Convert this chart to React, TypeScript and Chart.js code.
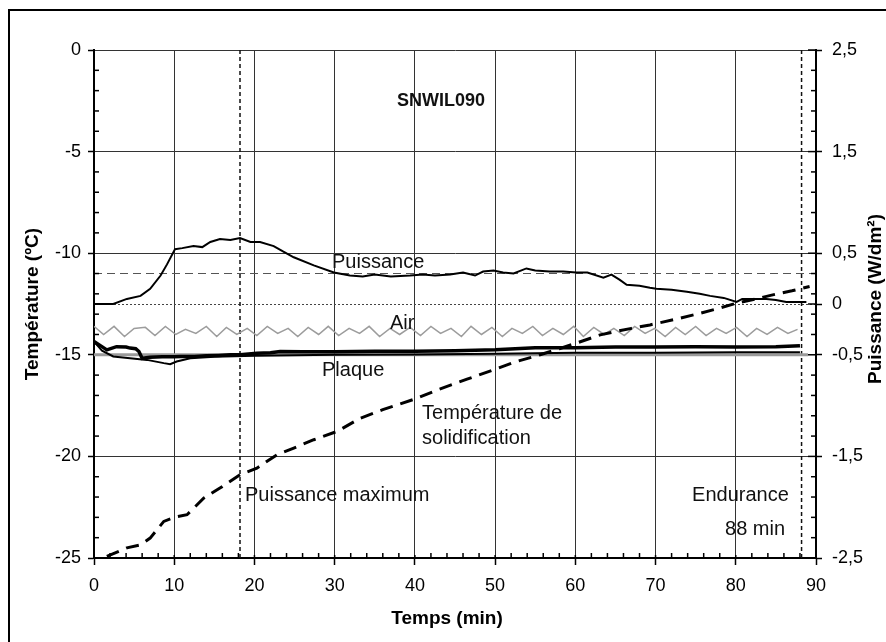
import React, { useEffect, useRef } from 'react';
import { Chart, registerables } from 'chart.js';

Chart.register(...registerables);

const FONT = "'Liberation Sans', Arial, Helvetica, sans-serif";

// ---- axes ----
const timeRange = [0, 90];
const tempRange = [-25, 0];
const powerRange = [-2.5, 2.5];
const powerTicks = [-2.5, -1.5, -0.5, 0, 0.5, 1.5, 2.5];

// ---- Puissance (W/dm²), right axis ----
const puisTime = [0, 2.4, 4.1, 5.8, 7.0, 8.3, 9.1, 10.1, 11.0, 12.4, 13.5, 14.5, 15.7, 17.0, 18.2, 19.5, 20.7, 22.4, 23.5, 24.9, 27.4, 29.9, 31.9, 33.5, 35.0, 37.0, 39.4, 41.0, 42.5, 44.4, 46.0, 47.5, 48.5, 49.8, 51.0, 52.3, 53.9, 55.0, 56.8, 58.5, 60.1, 61.5, 63.5, 64.5, 65.5, 66.4, 68.0, 69.3, 70.1, 72.0, 73.9, 75.5, 76.8, 78.5, 80.1, 80.8, 81.3, 82.5, 83.8, 85.0, 86.3, 87.5, 88.8];
const puisValue = [0, 0, 0.05, 0.08, 0.15, 0.28, 0.39, 0.54, 0.55, 0.57, 0.56, 0.61, 0.64, 0.63, 0.65, 0.61, 0.61, 0.57, 0.52, 0.46, 0.38, 0.31, 0.28, 0.27, 0.29, 0.27, 0.28, 0.29, 0.28, 0.29, 0.31, 0.28, 0.32, 0.33, 0.31, 0.30, 0.35, 0.33, 0.32, 0.32, 0.31, 0.31, 0.26, 0.29, 0.24, 0.19, 0.18, 0.16, 0.15, 0.14, 0.12, 0.10, 0.08, 0.06, 0.02, 0.05, 0.05, 0.05, 0.05, 0.04, 0.02, 0.02, 0.02];

// ---- Air (°C) ----
const airTime = [0, 1.2, 2.5, 3.8, 5.0, 6.4, 7.6, 8.9, 10.2, 11.4, 12.7, 14.0, 15.3, 16.5, 17.8, 19.1, 20.3, 21.6, 22.9, 24.2, 25.4, 26.7, 28.0, 29.2, 30.5, 31.8, 33.1, 34.3, 35.6, 36.9, 38.1, 39.4, 40.7, 42.0, 43.2, 44.5, 45.8, 47.0, 48.3, 49.6, 50.9, 52.1, 53.4, 54.7, 55.9, 57.2, 58.5, 59.8, 61.0, 62.3, 63.6, 64.8, 66.1, 67.4, 68.7, 69.9, 71.2, 72.5, 73.7, 75.0, 76.3, 77.6, 78.8, 80.1, 81.4, 82.6, 83.9, 85.2, 86.5, 87.7];
const airTemp = [-13.6, -14.0, -13.6, -14.1, -13.7, -13.65, -14.05, -13.6, -14.0, -13.75, -13.95, -13.6, -14.1, -13.65, -14.0, -13.7, -14.05, -13.6, -13.95, -13.7, -14.1, -13.65, -14.0, -13.6, -14.05, -13.7, -13.95, -13.6, -14.1, -13.7, -14.0, -13.65, -14.05, -13.6, -13.95, -13.7, -14.1, -13.6, -14.0, -13.65, -14.1, -13.7, -13.95, -13.6, -14.05, -13.7, -14.0, -13.6, -14.1, -13.65, -14.0, -13.7, -14.05, -13.6, -13.95, -13.7, -14.1, -13.65, -14.0, -13.6, -14.05, -13.7, -13.95, -13.65, -14.1, -13.7, -14.0, -13.65, -13.95, -13.75];

// ---- Plaque (°C), thick ----
const plaqTime = [0, 0.8, 1.6, 2.8, 4.0, 4.5, 5.2, 5.6, 6.0, 7.0, 8.5, 10.0, 10.8, 12.5, 14.0, 15.5, 17.0, 18.2, 20.3, 22.0, 23.2, 26.0, 30.0, 35.0, 40.0, 45.0, 50.0, 55.0, 60.0, 65.0, 70.0, 75.0, 80.0, 85.0, 88.0];
const plaqTemp = [-14.35, -14.55, -14.76, -14.6, -14.62, -14.67, -14.7, -14.84, -15.17, -15.12, -15.1, -15.1, -15.08, -15.08, -15.05, -15.03, -15.0, -15.0, -14.92, -14.9, -14.84, -14.85, -14.85, -14.83, -14.82, -14.8, -14.75, -14.65, -14.65, -14.62, -14.62, -14.6, -14.62, -14.6, -14.55];

// ---- second plate probe (°C), thin ----
const plaq2Time = [0, 1.0, 2.4, 4.5, 6.6, 8.7, 9.5, 10.3, 12.0, 15.0, 20.0, 30.0, 40.0, 50.0, 60.0, 70.0, 80.0, 88.0];
const plaq2Temp = [-14.35, -14.8, -15.08, -15.17, -15.25, -15.41, -15.46, -15.33, -15.17, -15.1, -15.05, -15.0, -14.98, -14.95, -14.9, -14.9, -14.88, -14.87];

// ---- reference level (grey) ----
const refTime = [0, 89];
const refTemp = [-15, -15];

// ---- Température de solidification (°C), dashed ----
const solTime = [1.6, 4.1, 5.8, 7.0, 8.7, 10.1, 11.6, 13.7, 15.7, 18.2, 20.3, 22.8, 24.9, 27.4, 30.3, 33.2, 36.0, 39.8, 43.0, 46.5, 49.8, 52.5, 55.6, 58.0, 60.1, 63.1, 65.1, 67.0, 69.3, 72.5, 75.5, 78.0, 80.1, 82.5, 84.6, 87.0, 89.2];
const solTemp = [-24.92, -24.5, -24.35, -24.02, -23.2, -22.99, -22.87, -22.05, -21.56, -20.9, -20.58, -19.92, -19.59, -19.18, -18.77, -18.12, -17.7, -17.2, -16.7, -16.2, -15.74, -15.35, -15.0, -14.7, -14.43, -14.02, -13.85, -13.7, -13.53, -13.25, -12.96, -12.7, -12.46, -12.25, -12.05, -11.85, -11.64];

// ---- puissance maximum level (W/dm²) and vertical markers (min) ----
const maxPowerTime = [0, 90];
const maxPowerValue = [0.3, 0.3];
const markerTimes = [18.2, 88.2];

// ---- text annotations (data coordinates: min, °C) ----
const annotations = [
  { text: 'SNWIL090', x: 43.26, y: -2.46, size: 18, bold: true, align: 'center' },
  { text: 'Puissance', x: 29.67, y: -10.38, size: 20, bold: false, align: 'left' },
  { text: 'Air', x: 36.9, y: -13.39, size: 20, bold: false, align: 'left' },
  { text: 'Plaque', x: 28.42, y: -15.7, size: 20, bold: false, align: 'left' },
  { text: 'Température de', x: 40.89, y: -17.81, size: 20, bold: false, align: 'left' },
  { text: 'solidification', x: 40.89, y: -19.05, size: 20, bold: false, align: 'left' },
  { text: 'Puissance maximum', x: 18.82, y: -21.85, size: 20, bold: false, align: 'left' },
  { text: 'Endurance', x: 74.55, y: -21.85, size: 20, bold: false, align: 'left' },
  { text: '88 min', x: 78.66, y: -23.52, size: 20, bold: false, align: 'left' },
];

const xTitle = 'Temps (min)';
const yTitle = 'Température (ºC)';
const y1Title = 'Puissance (W/dm²)';

const pts = (xs: number[], ys: number[]) => xs.map((x, i) => ({ x, y: ys[i] }));

const decorPlugin = {
  id: 'decor',
  beforeDraw(chart: any) {
    const ctx = chart.ctx;
    ctx.save();
    ctx.fillStyle = '#fff';
    ctx.fillRect(0, 0, chart.width, chart.height);
    ctx.strokeStyle = '#000';
    ctx.lineWidth = 2;
    ctx.beginPath();
    ctx.moveTo(9, chart.height + 5);
    ctx.lineTo(9, 10);
    ctx.lineTo(chart.width + 5, 10);
    ctx.stroke();
    ctx.restore();
  },
  afterDraw(chart: any) {
    const { ctx, chartArea: a, scales } = chart;
    const sx = scales.x, sy = scales.y, sy1 = scales.y1;
    const line = (x1: number, y1: number, x2: number, y2: number) => {
      ctx.beginPath();
      ctx.moveTo(x1, y1);
      ctx.lineTo(x2, y2);
      ctx.stroke();
    };
    ctx.save();
    ctx.strokeStyle = '#000';
    ctx.lineWidth = 1.5;
    for (let v = -24; v <= -1; v++) {
      if (v % 5 === 0) continue;
      const p = sy.getPixelForValue(v);
      line(a.left, p, a.left + 5, p);
    }
    for (let v = 2; v < 90; v += 2) {
      if (v % 10 === 0) continue;
      const p = sx.getPixelForValue(v);
      line(p, a.bottom, p, a.bottom - 5);
    }
    for (let v = 0; v <= 90; v += 10) {
      const p = sx.getPixelForValue(v);
      line(p, a.bottom, p, a.bottom - 3);
    }
    for (let k = 1; k < 25; k++) {
      if (k % 5 === 0) continue;
      const p = sy1.getPixelForValue(2.5 - 0.2 * k);
      line(a.right, p, a.right - 5, p);
    }
    powerTicks.forEach((v) => {
      const p = sy1.getPixelForValue(v);
      line(a.right - 8, p, a.right, p);
    });

    // annotations
    ctx.fillStyle = '#111';
    ctx.textBaseline = 'alphabetic';
    annotations.forEach((t) => {
      ctx.font = `${t.bold ? 'bold ' : ''}${t.size}px ${FONT}`;
      ctx.textAlign = t.align;
      const px = sx.getPixelForValue(t.x);
      const py = sy.getPixelForValue(t.y) + t.size * 0.358;
      ctx.fillText(t.text, px, py);
    });

    // axis titles
    ctx.fillStyle = '#000';
    ctx.font = `bold 19px ${FONT}`;
    ctx.textAlign = 'center';
    ctx.fillText(xTitle, (a.left + a.right) / 2 - 8, 617 + 19 * 0.358);

    ctx.save();
    ctx.translate(33, (a.top + a.bottom) / 2);
    ctx.rotate(-Math.PI / 2);
    ctx.textBaseline = 'middle';
    ctx.fillText(yTitle, 0, 0);
    ctx.restore();

    ctx.save();
    ctx.translate(876, 299);
    ctx.rotate(-Math.PI / 2);
    ctx.textBaseline = 'middle';
    ctx.fillText(y1Title, 0, 0);
    ctx.restore();

    ctx.restore();
  },
};

export default function App() {
  const ref = useRef<HTMLCanvasElement | null>(null);

  useEffect(() => {
    document.body.style.margin = '0';
    const canvas = ref.current;
    if (!canvas) return;

    const markerSets = markerTimes.map((t) => ({
      label: 'marker',
      data: pts([t, t], tempRange),
      yAxisID: 'y',
      borderColor: '#111',
      borderWidth: 1.5,
      borderDash: [4, 3],
      pointRadius: 0,
    }));

    const chart = new Chart(canvas, {
      type: 'line',
      data: {
        datasets: [
          {
            label: 'Température de solidification',
            data: pts(solTime, solTemp),
            yAxisID: 'y',
            borderColor: '#000',
            borderWidth: 3,
            borderDash: [13, 8],
            pointRadius: 0,
          },
          {
            label: 'Plaque',
            data: pts(plaqTime, plaqTemp),
            yAxisID: 'y',
            borderColor: '#000',
            borderWidth: 3.5,
            pointRadius: 0,
          },
          {
            label: 'Plaque 2',
            data: pts(plaq2Time, plaq2Temp),
            yAxisID: 'y',
            borderColor: '#000',
            borderWidth: 2,
            pointRadius: 0,
          },
          {
            label: 'Puissance',
            data: pts(puisTime, puisValue),
            yAxisID: 'y1',
            borderColor: '#000',
            borderWidth: 2,
            pointRadius: 0,
          },
          {
            label: 'Référence',
            data: pts(refTime, refTemp),
            yAxisID: 'y',
            borderColor: '#9a9a9a',
            borderWidth: 3,
            pointRadius: 0,
          },
          {
            label: 'Air',
            data: pts(airTime, airTemp),
            yAxisID: 'y',
            borderColor: '#9c9c9c',
            borderWidth: 1.5,
            pointRadius: 0,
          },
          {
            label: 'Puissance maximum',
            data: pts(maxPowerTime, maxPowerValue),
            yAxisID: 'y1',
            borderColor: '#555',
            borderWidth: 1.2,
            borderDash: [8, 5],
            pointRadius: 0,
          },
          ...markerSets,
        ] as any,
      },
      plugins: [decorPlugin],
      options: {
        animation: false,
        responsive: false,
        devicePixelRatio: 1,
        parsing: true,
        layout: { padding: { top: 50, left: 0, right: 0, bottom: 0 } },
        plugins: {
          legend: { display: false },
          tooltip: { enabled: false },
        },
        elements: { line: { tension: 0 } },
        scales: {
          x: {
            type: 'linear',
            position: 'bottom',
            min: timeRange[0],
            max: timeRange[1],
            afterFit: (s: any) => { s.height = 84; },
            ticks: {
              stepSize: 10,
              color: '#000',
              padding: 10,
              font: { family: FONT, size: 18 },
            },
            grid: { color: '#333', lineWidth: 1, tickLength: 7, tickColor: '#000', tickWidth: 1.5 },
            border: { display: true, color: '#000', width: 2 },
          },
          y: {
            type: 'linear',
            position: 'left',
            min: tempRange[0],
            max: tempRange[1],
            afterFit: (s: any) => { s.width = 94; },
            ticks: {
              stepSize: 5,
              color: '#000',
              padding: 7,
              font: { family: FONT, size: 18 },
            },
            grid: { color: '#333', lineWidth: 1, tickLength: 6, tickColor: '#000', tickWidth: 1.5 },
            border: { display: true, color: '#000', width: 2 },
          },
          y1: {
            type: 'linear',
            position: 'right',
            min: powerRange[0],
            max: powerRange[1],
            afterFit: (s: any) => { s.width = 70; },
            afterBuildTicks: (s: any) => { s.ticks = powerTicks.map((v) => ({ value: v })); },
            ticks: {
              color: '#000',
              padding: 10,
              font: { family: FONT, size: 18 },
              callback: (v: any) => String(v).replace('.', ','),
            },
            grid: {
              color: (c: any) => (c.tick && c.tick.value === 0 ? '#444' : 'rgba(0,0,0,0)'),
              lineWidth: 1,
              tickLength: 6,
              tickColor: '#000',
              tickWidth: 1.5,
            },
            border: { display: true, color: '#000', width: 2, dash: [2, 2] },
          },
        },
      } as any,
    });

    return () => chart.destroy();
  }, []);

  return (
    <div style={{ width: 886, height: 642 }}>
      <canvas ref={ref} width={886} height={642} style={{ display: 'block', width: 886, height: 642 }} />
    </div>
  );
}
